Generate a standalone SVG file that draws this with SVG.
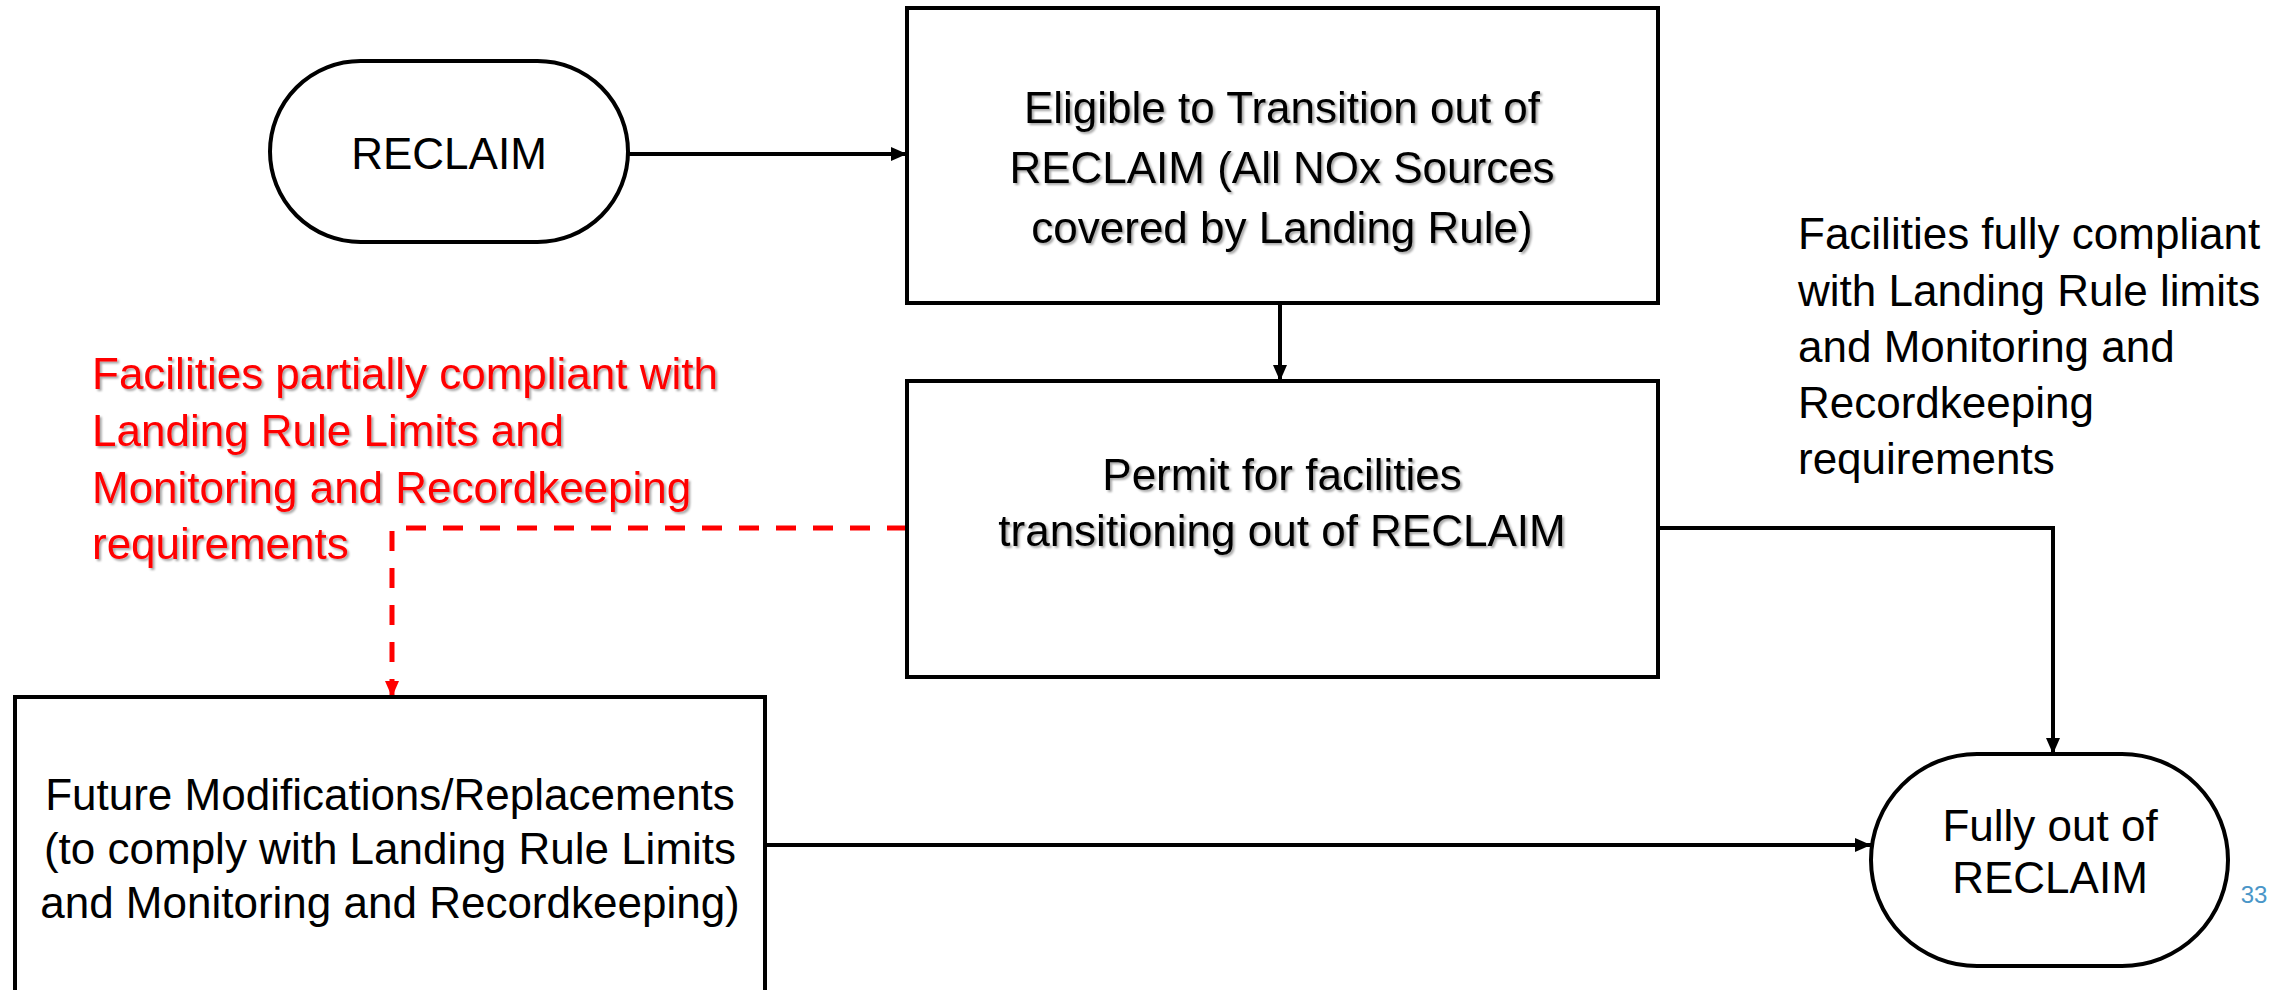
<svg xmlns="http://www.w3.org/2000/svg" width="2288" height="990" viewBox="0 0 2288 990">
<defs>
<style>
.shape{fill:#fff;stroke:#000;stroke-width:4}
.t{font-family:"Liberation Sans",Arial,sans-serif;font-size:44px;fill:#000}
.c{text-anchor:middle}
.sh{filter:url(#shadow)}
.red{fill:#ff0000}
.conn{fill:none;stroke:#000;stroke-width:4}
.dash{fill:none;stroke:#ff0000;stroke-width:5;stroke-dasharray:20 17}
</style>
<filter id="shadow" x="-5%" y="-20%" width="110%" height="140%">
<feDropShadow dx="2" dy="2" stdDeviation="1.2" flood-color="#000" flood-opacity="0.35"/>
</filter>
<marker id="ah" markerUnits="userSpaceOnUse" markerWidth="16" markerHeight="14" refX="16" refY="7" orient="auto">
<path d="M0,0 L16,7 L0,14 z" fill="#000"/>
</marker>
<marker id="ahr" markerUnits="userSpaceOnUse" markerWidth="16" markerHeight="14" refX="16" refY="7" orient="auto">
<path d="M0,0 L16,7 L0,14 z" fill="#ff0000"/>
</marker>
</defs>
<rect width="2288" height="990" fill="#fff"/>

<g id="connectors">
<line class="conn" x1="628" y1="154" x2="907" y2="154" marker-end="url(#ah)"/>
<line class="conn" x1="1280" y1="303" x2="1280" y2="381" marker-end="url(#ah)"/>
<polyline class="dash" points="907,528 392,528 392,697" marker-end="url(#ahr)"/>
<polyline class="conn" points="1658,528 2053,528 2053,754" marker-end="url(#ah)"/>
<line class="conn" x1="765" y1="845" x2="1871" y2="845" marker-end="url(#ah)"/>
</g>

<g id="node-reclaim">
<rect class="shape" x="270" y="61" width="358" height="181" rx="90.5"/>
<text class="t c" x="449" y="169">RECLAIM</text>
</g>

<g id="node-eligible">
<rect class="shape" x="907" y="8" width="751" height="295"/>
<text class="t c sh" x="1282" y="123">Eligible to Transition out of</text>
<text class="t c sh" x="1282" y="183">RECLAIM (All NOx Sources</text>
<text class="t c sh" x="1282" y="243">covered by Landing Rule)</text>
</g>

<g id="node-permit">
<rect class="shape" x="907" y="381" width="751" height="296"/>
<text class="t c sh" x="1282" y="490">Permit for facilities</text>
<text class="t c sh" x="1282" y="546">transitioning out of RECLAIM</text>
</g>

<g id="label-partial">
<text class="t red sh" x="92" y="389">Facilities partially compliant with</text>
<text class="t red sh" x="92" y="446">Landing Rule Limits and</text>
<text class="t red sh" x="92" y="503">Monitoring and Recordkeeping</text>
<text class="t red sh" x="92" y="559">requirements</text>
</g>

<g id="node-future">
<rect class="shape" x="15" y="697" width="750" height="330"/>
<text class="t c" x="390" y="810">Future Modifications/Replacements</text>
<text class="t c" x="390" y="864">(to comply with Landing Rule Limits</text>
<text class="t c" x="390" y="918">and Monitoring and Recordkeeping)</text>
</g>

<g id="label-full">
<text class="t" x="1798" y="249">Facilities fully compliant</text>
<text class="t" x="1798" y="306">with Landing Rule limits</text>
<text class="t" x="1798" y="362">and Monitoring and</text>
<text class="t" x="1798" y="418">Recordkeeping</text>
<text class="t" x="1798" y="474">requirements</text>
</g>

<g id="node-fully-out">
<rect class="shape" x="1871" y="754" width="357" height="212" rx="106"/>
<text class="t c" x="2050" y="841">Fully out of</text>
<text class="t c" x="2050" y="893">RECLAIM</text>
</g>

<text x="2254" y="903" text-anchor="middle" font-family="Liberation Sans, Arial, sans-serif" font-size="24" fill="#4a96c8">33</text>
</svg>
